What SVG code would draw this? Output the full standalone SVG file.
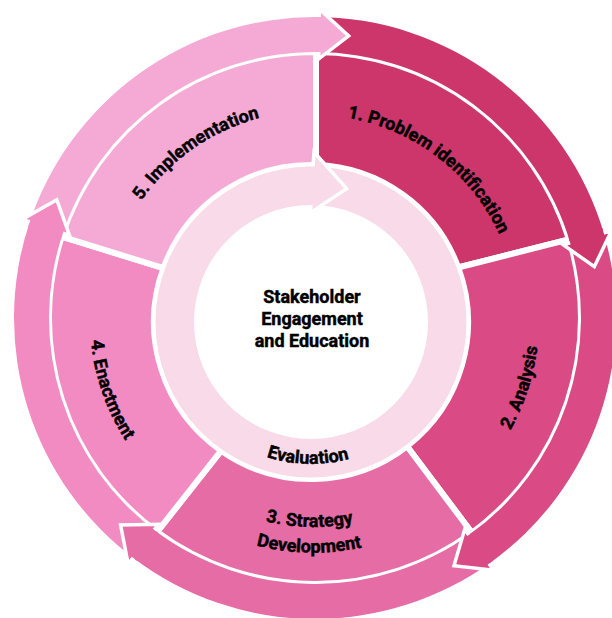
<svg xmlns="http://www.w3.org/2000/svg" width="612" height="618" viewBox="0 0 612 618">
<style>
.seg{stroke:#fff;stroke-width:6;stroke-linejoin:miter}
.c1{fill:#CD366A}.c2{fill:#DA4A85}.c3{fill:#E66CA6}.c4{fill:#F38BC3}.c5{fill:#F4AAD4}
.out{fill:none;stroke:#fff;stroke-width:3.5;stroke-linejoin:miter;stroke-miterlimit:10}
.lbl{font-family:Roboto,"Liberation Sans",sans-serif;font-weight:700;font-size:18px;fill:#000;stroke:#000;stroke-width:0.45}
</style>
<defs>
<path id="p1" d="M 234.55 130.61 A 205 205 0 0 1 516.25 346.76"/>
<path id="p5" d="M 104.8 338.22 A 209 209 0 0 1 401.33 130.58"/>
<path id="p2" d="M 359.99 541.06 A 226 226 0 0 0 480.95 168.78"/>
<path id="p4" d="M 144.7 173.7 A 223 223 0 0 0 270.45 538.9"/>
<path id="p3a" d="M 131.95 420.36 A 207 207 0 0 0 490.43 426.61"/>
<path id="p3b" d="M 110.53 432.23 A 230.5 230.5 0 0 0 511.58 439.28"/>
<path id="pe" d="M 186.44 390.19 A 142 142 0 0 0 432.33 395.77"/>
</defs>
<rect width="612" height="618" fill="#fff"/>

<g id="stage-1">
<path class="seg c1" d="M 316 165 L 316 52 A 266 266 0 0 1 569.1 239.4 L 458.2 267.5 A 157 157 0 0 0 316 165 Z"/>
<text class="lbl"><textPath href="#p1" startOffset="50%" text-anchor="middle">1. Problem identification</textPath></text>
</g>
<g id="stage-2">
<path class="seg c2" d="M 458.2 267.5 L 569.1 239.4 A 266 266 0 0 1 471.9 532.8 L 407 446.3 A 157 157 0 0 0 458.2 267.5 Z"/>
<text class="lbl"><textPath href="#p2" startOffset="50%" text-anchor="middle">2. Analysis</textPath></text>
</g>
<g id="stage-3">
<path class="seg c3" d="M 407 446.3 L 471.9 532.8 A 266 266 0 0 1 157 532 L 221.2 450.7 A 157 157 0 0 0 407 446.3 Z"/>
<text class="lbl"><textPath href="#p3a" startOffset="50%" text-anchor="middle">3. Strategy</textPath></text>
<text class="lbl"><textPath href="#p3b" startOffset="50%" text-anchor="middle">Development</textPath></text>
</g>
<g id="stage-4">
<path class="seg c4" d="M 221.2 450.7 L 157 532 A 266 266 0 0 1 61.7 236.6 L 163.5 268.1 A 157 157 0 0 0 221.2 450.7 Z"/>
<text class="lbl"><textPath href="#p4" startOffset="50%" text-anchor="middle">4. Enactment</textPath></text>
</g>
<g id="stage-5">
<path class="seg c5" d="M 163.5 268.1 L 61.7 236.6 A 266 266 0 0 1 316 52 L 316 165 A 157 157 0 0 0 163.5 268.1 Z"/>
<text class="lbl"><textPath href="#p5" startOffset="50%" text-anchor="middle">5. Implementation</textPath></text>
</g>

<g id="connectors">
<path class="c1" d="M 315 17 A 301 301 0 0 1 603.75 233.02 L 570.18 242.9 A 266 266 0 0 0 315 52 Z"/>
<path class="c2" d="M 602.54 228.99 A 301 301 0 0 1 488.94 563.66 L 468.71 535.09 A 266 266 0 0 0 569.1 239.34 Z"/>
<path class="c3" d="M 492.39 561.18 A 301 301 0 0 1 133.02 557.76 L 154.18 529.88 A 266 266 0 0 0 471.76 532.9 Z"/>
<path class="c4" d="M 136.38 560.27 A 301 301 0 0 1 29.73 221.99 L 62.9 233.16 A 266 266 0 0 0 157.15 532.1 Z"/>
<path class="c5" d="M 28.41 225.98 A 301 301 0 0 1 319.2 17.03 L 318.71 52.03 A 266 266 0 0 0 61.73 236.68 Z"/>

<path class="c5" d="M 313.95 17 L 319.2 17.03 L 319.31 9.03 L 348.63 36 L 318.62 59.03 L 318.71 52.03 L 314.07 52 Z"/>
<path class="out" d="M 319.2 17.03 L 319.31 9.03 L 348.63 36 L 318.62 59.03 L 318.71 52.03"/>
<path class="c1" d="M 602.23 227.99 L 603.75 233.02 L 611.43 230.76 L 594.33 266.73 L 563.46 244.87 L 570.18 242.9 L 568.83 238.46 Z"/>
<path class="out" d="M 603.75 233.02 L 611.43 230.76 L 594.33 266.73 L 563.46 244.87 L 570.18 242.9"/>
<path class="c2" d="M 493.24 560.55 L 488.94 563.66 L 493.56 570.19 L 453.98 565.67 L 464.67 529.38 L 468.71 535.09 L 472.51 532.35 Z"/>
<path class="out" d="M 488.94 563.66 L 493.56 570.19 L 453.98 565.67 L 464.67 529.38 L 468.71 535.09"/>
<path class="c3" d="M 137.23 560.89 L 133.02 557.76 L 128.18 564.13 L 120.59 525.03 L 158.41 524.3 L 154.18 529.88 L 157.9 532.65 Z"/>
<path class="out" d="M 133.02 557.76 L 128.18 564.13 L 120.59 525.03 L 158.41 524.3 L 154.18 529.88"/>
<path class="c4" d="M 28.09 226.99 L 29.73 221.99 L 22.15 219.44 L 56.78 199.78 L 69.53 235.39 L 62.9 233.16 L 61.45 237.57 Z"/>
<path class="out" d="M 29.73 221.99 L 22.15 219.44 L 56.78 199.78 L 69.53 235.39 L 62.9 233.16"/>
</g>

<g id="evaluation">
<circle cx="311" cy="322" r="136.25" fill="none" stroke="#F9DAE8" stroke-width="38.5"/>
<path fill="#F9DAE8" d="M 305.57 166.59 L 313 166.5 L 314 152 L 346.72 188.7 L 310 213 L 311 205 L 306.92 205.07 Z"/>
<path class="out" d="M 313 166.5 L 314 152 L 346.72 188.7 L 310 213 L 311 205"/>
<text class="lbl"><textPath href="#pe" startOffset="50%" text-anchor="middle">Evaluation</textPath></text>
</g>

<g id="center">
<text class="lbl" x="312" y="303" text-anchor="middle">Stakeholder</text>
<text class="lbl" x="312" y="325" text-anchor="middle">Engagement</text>
<text class="lbl" x="312" y="347" text-anchor="middle">and Education</text>
</g>
</svg>
